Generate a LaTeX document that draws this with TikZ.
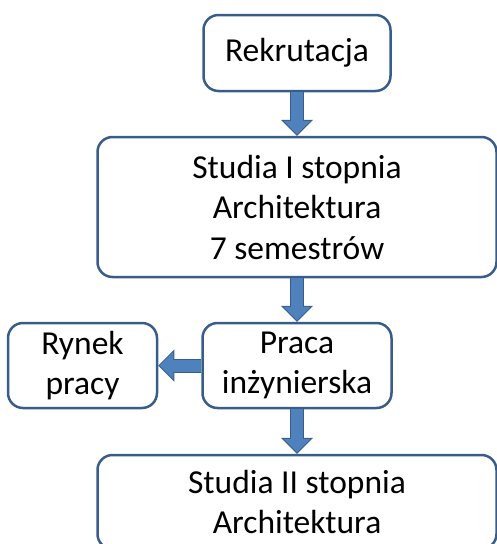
\documentclass[tikz,border=0pt]{standalone}
\usepackage{fontspec}
\setmainfont{Carlito}
\usetikzlibrary{arrows.meta}
\definecolor{boxline}{RGB}{56,93,138}
\definecolor{arrowfill}{RGB}{79,129,189}
\definecolor{arrowline}{RGB}{56,93,138}
\tikzset{
  stagebox/.style={draw=boxline, line width=2.5pt, rounded corners=15pt, fill=white,
    align=center, inner sep=0pt, font=\fontsize{33.5}{40.5}\selectfont},
}
% thick blue arrow with a darker rim
\newcommand{\blockarrow}[2]{
  \draw[arrowline, line width=14pt, -{Triangle[width=32pt,length=16pt,line width=0pt]}] (#1) -- (#2);
  \draw[arrowfill, line width=12pt, shorten >=1.4pt, -{Triangle[width=27pt,length=13.6pt,line width=0pt]}] (#1) -- (#2);
}

\begin{document}
\begin{tikzpicture}[x=1pt, y=-1pt]
\useasboundingbox (0,0) rectangle (497,544);
\clip (0,0) rectangle (497,544);
\node[stagebox, minimum width=187pt, minimum height=76pt] (rek) at (297,53) {Rekrutacja};
\node[stagebox, minimum width=399pt, minimum height=140pt] (st1) at (297,207) {Studia I stopnia\\Architektura\\7 semestrów};
\node[stagebox, minimum width=189pt, minimum height=85pt] (praca) at (297,365.5) {Praca\\inżynierska};
\node[stagebox, minimum width=149pt, minimum height=85pt] (rynek) at (82.5,365.5) {Rynek\\pracy};
\node[stagebox, minimum width=399pt, minimum height=94pt] (st2) at (297,502) {Studia II stopnia\\Architektura};
\blockarrow{rek.south}{st1.north}
\blockarrow{st1.south}{praca.north}
\blockarrow{praca.west}{rynek.east}
\blockarrow{praca.south}{st2.north}
\end{tikzpicture}
\end{document}
